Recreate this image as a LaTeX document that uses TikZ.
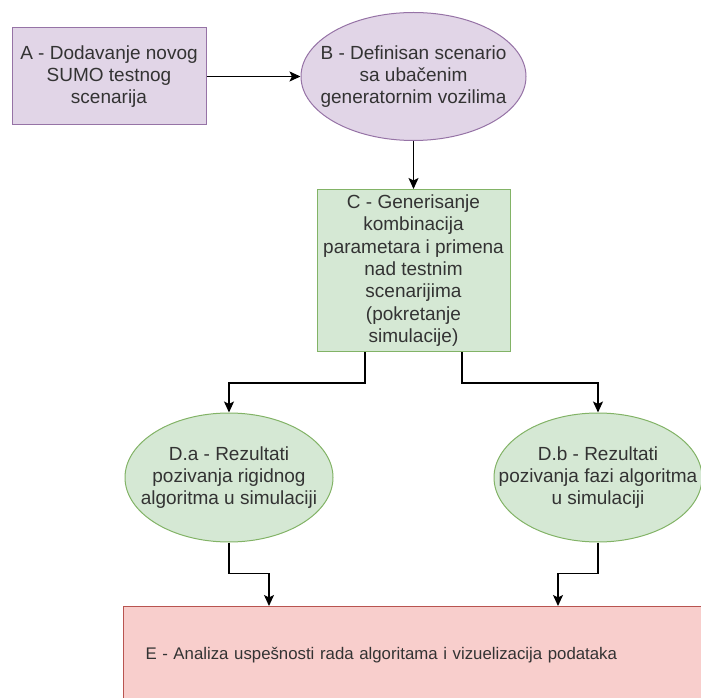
\documentclass[tikz,border=0pt]{standalone}
\usepackage{fontspec}
\setmainfont{Liberation Sans}
\definecolor{lilac}{HTML}{E1D5E7}
\definecolor{lilacline}{HTML}{9673A6}
\definecolor{mint}{HTML}{D5E8D4}
\definecolor{mintline}{HTML}{82B366}
\definecolor{rose}{HTML}{F8CECC}
\definecolor{roseline}{HTML}{B85450}
\definecolor{ink}{HTML}{333333}
\usetikzlibrary{positioning,arrows.meta,shapes.geometric}

\begin{document}
\begin{tikzpicture}[x=1pt,y=1pt,
      every node/.style={font=\fontsize{19}{22.4}\selectfont,align=center,text=ink},
      box/.style={draw,line width=1pt,inner sep=0pt},
      oval/.style={ellipse,draw,line width=1pt,inner xsep=-40pt,inner ysep=0pt,minimum width=208pt,minimum height=129pt},
      flow/.style={-{Stealth[length=11pt,width=10pt,inset=2.5pt]},line width=1.3pt,black}]
    \useasboundingbox (0,0) rectangle (701,697);
    \node[box,fill=lilac,draw=lilacline,minimum width=194pt,minimum height=97pt] (dodavanje) at (109,620.5)
      {A - Dodavanje novog\\SUMO testnog\\scenarija};
    \node[oval,fill=lilac,draw=lilacline,minimum width=225pt,minimum height=128pt,right=94pt of dodavanje] (scenario)
      {B - Definisan scenario\\sa uba\v{c}enim\\generatornim vozilima};
    \node[box,fill=mint,draw=mintline,minimum width=193pt,minimum height=162pt,below=48pt of scenario] (kombinacije)
      {C - Generisanje\\kombinacija\\parametara i primena\\nad testnim\\scenarijima\\(pokretanje\\simulacije)};
    \node[oval,fill=mint,draw=mintline] (rigidni) at (229,219.5)
      {D.a - Rezultati\\pozivanja rigidnog\\algoritma u simulaciji};
    \node[oval,fill=mint,draw=mintline] (fazi) at (598,219.5)
      {D.b - Rezultati\\pozivanja fazi algoritma\\u simulaciji};
    \node[box,fill=rose,draw=roseline,anchor=north west,minimum height=98pt,text width=596pt,inner xsep=22pt,align=left,
      font=\fontsize{16.8}{20}\selectfont] (analiza) at (123,91)
      {E - Analiza uspe\v{s}nosti rada algoritama i vizuelizacija podataka};
    \draw[flow] (dodavanje.east) -- (scenario.west);
    \draw[flow] (scenario.south) -- (scenario.south |- kombinacije.north);
    \draw[flow] ([xshift=-48.5pt]kombinacije.south) -- ++(0,-31) -| (rigidni.north);
    \draw[flow] ([xshift=48.5pt]kombinacije.south) -- ++(0,-31) -| (fazi.north);
    \draw[flow] (rigidni.south) -- ++(0,-31) -| ([xshift=146pt]analiza.north west);
    \draw[flow] (fazi.south) -- ++(0,-31) -| ([xshift=435pt]analiza.north west);
  \end{tikzpicture}
\end{document}
